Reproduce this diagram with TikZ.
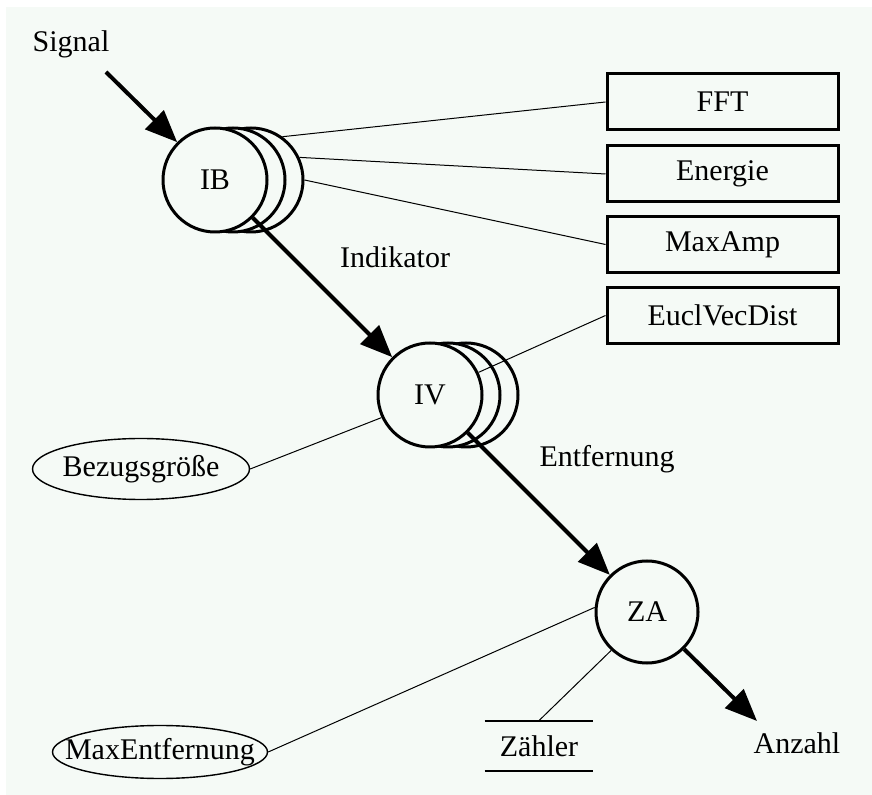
\documentclass[tikz,border=0pt]{standalone}
\usepackage{fontspec}
\setmainfont{Liberation Serif}
\usetikzlibrary{arrows.meta,shapes.geometric}
\definecolor{bg}{RGB}{245,250,246}
\tikzstyle{proc}=[shape=circle, minimum size=52pt, inner sep=0, draw, line width=1.5pt, fill=bg]
\tikzstyle{feat}=[shape=rectangle, draw, line width=1.5pt, minimum width=115.5pt, minimum height=28pt, inner sep=0]
\tikzstyle{param}=[shape=ellipse, draw, line width=.7pt, inner sep=0]
\tikzstyle{flow}=[line width=2pt, -{Triangle[length=16pt,width=13pt]}]
\tikzstyle{link}=[line width=.5pt]

\begin{document}
\begin{tikzpicture}[x=.5pt, y=-.5pt, font=\fontsize{15}{18}\selectfont]
\useasboundingbox (0,0) rectangle (872,795);
\fill[bg] (6,7) rectangle (872,795);
\node at (251,180)[proc](IBc){};
\node at (233,180)[proc](IBb){};
\node at (215,180)[proc](IB){IB};
\node at (466,395)[proc](IVc){};
\node at (448,395)[proc](IVb){};
\node at (430,395)[proc](IV){IV};
\node at (647,612)[proc, minimum size=51pt](ZA){ZA};
\node at (722.5,102)[feat](fft){FFT};
\node at (722.5,174)[feat](energie){Energie};
\node at (722.5,244.5)[feat](maxamp){MaxAmp};
\node at (722.5,315.5)[feat](eucl){EuclVecDist};
\node at (141,469)[param, minimum width=108.5pt, minimum height=30.5pt, label=center:{Bezugsgröße}](bez){};
\node at (160,752)[param, minimum width=107.5pt, minimum height=26.5pt, label=center:{MaxEntfernung}](maxent){};
\node at (539,746)[minimum width=54pt, minimum height=25pt, inner sep=0](zaehler){Zähler};
\draw[line width=1pt] (zaehler.north west)--(zaehler.north east);
\draw[line width=1pt] (zaehler.south west)--(zaehler.south east);
\node at (71,52)[anchor=base](signal){Signal};
\node at (395,268)[anchor=base](indikator){Indikator};
\node at (607,467)[anchor=base](entfernung){Entfernung};
\node at (797,753)[anchor=base](anzahl){Anzahl};
\coordinate (in) at (106,72);
\coordinate (out) at (757,721);
\draw[flow] (in)--(IB.135);
\draw[flow] (IB.-45)--(IV.135);
\draw[flow] (IV.-45)--(ZA.135);
\draw[flow] (ZA.-45)--(out);
\draw[link] (IBc.54)--(fft.west);
\draw[link] (IBc.25)--(energie.west);
\draw[link] (IBc.east)--(maxamp.west);
\draw[link] (IV.25)--(eucl.west);
\draw[link] (bez.east)--(IV.205);
\draw[link] (maxent.east)--(ZA.175);
\draw[link] (ZA.227)--(zaehler.north);
\end{tikzpicture}
\end{document}
